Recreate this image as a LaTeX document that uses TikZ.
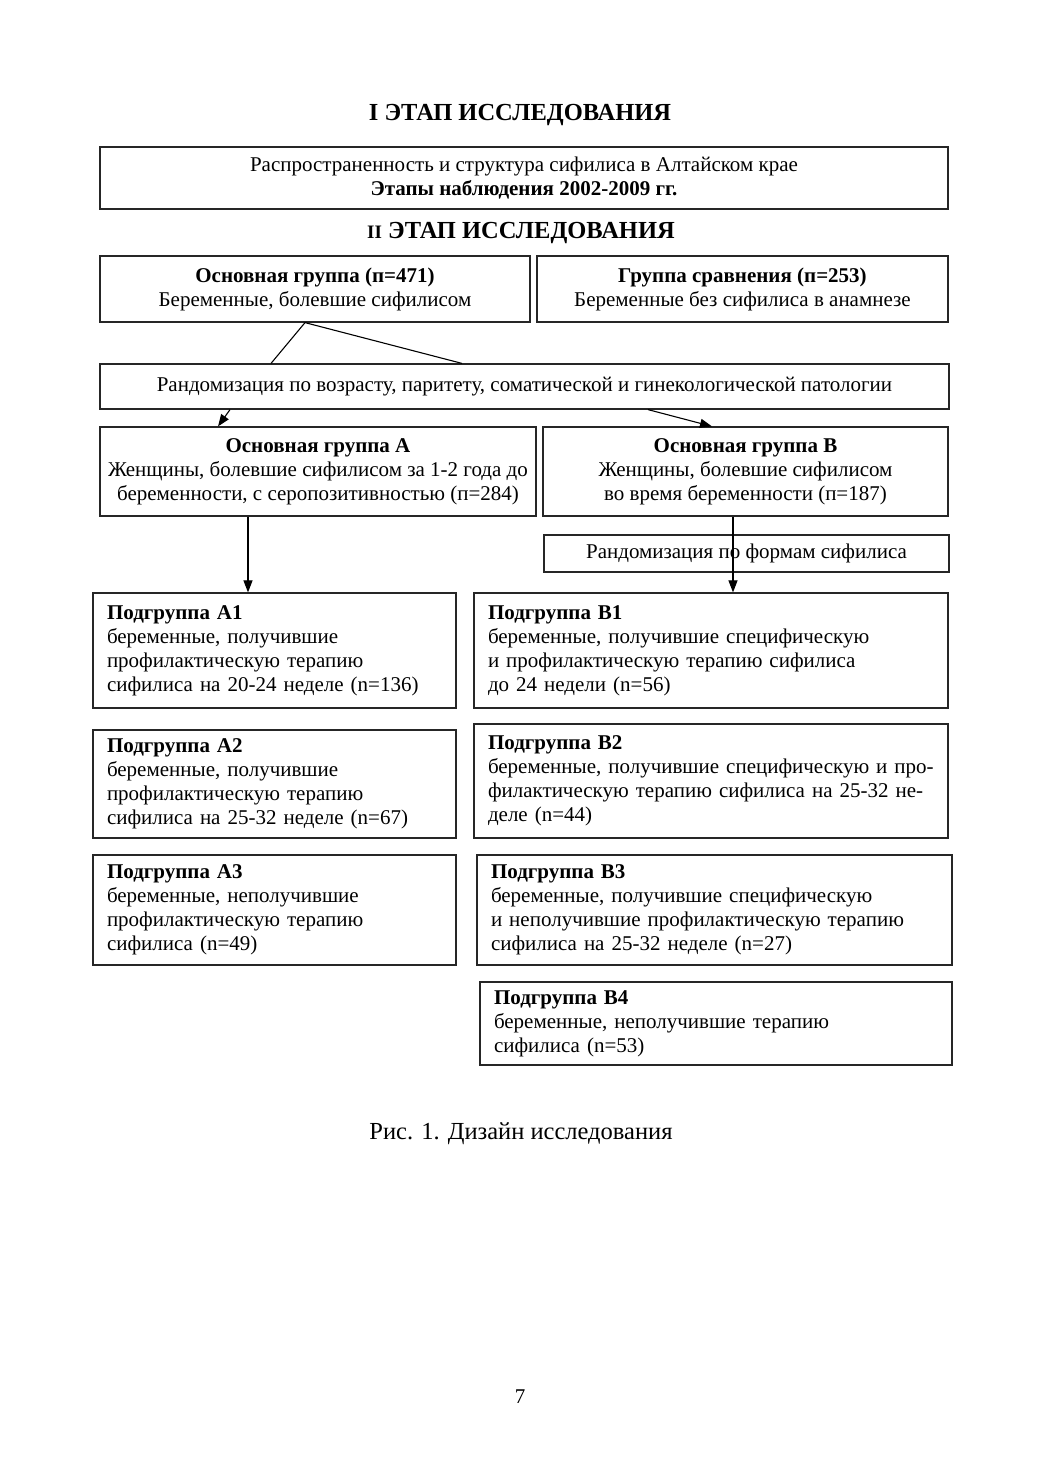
\documentclass[tikz,border=0pt]{standalone}
\usepackage{fontspec}
\setmainfont{Liberation Serif}
\usetikzlibrary{arrows.meta}
\begin{document}
\begin{tikzpicture}[x=1pt,y=-1pt,
  base/.style={draw=black!85, line width=1.2pt, font=\fontsize{21}{24}\selectfont},
  cbox/.style={base, align=center, inner xsep=4pt, inner ysep=0pt},
  lbox/.style={base, align=left, inner xsep=14pt, inner ysep=0pt},
  title/.style={font=\fontsize{24.5}{28}\selectfont\bfseries},
  link/.style={draw=black, line width=1.1pt},
  arr/.style={link, -{Triangle[length=12pt,width=9pt]}}]
\useasboundingbox (0,0) rectangle (1040,1473);
\fill[white] (0,0) rectangle (1040,1473);

\node[title] (t1) at (520,115) {I ЭТАП ИССЛЕДОВАНИЯ};
\node[cbox, minimum width=848pt, minimum height=62pt] (top) at (524,178)
 {Распространенность и структура сифилиса в Алтайском крае\\\textbf{Этапы наблюдения 2002-2009 гг.}};
\node[title] (t2) at (521,233) {{\fontsize{19}{24}\selectfont II} ЭТАП ИССЛЕДОВАНИЯ};

\node[cbox, minimum width=430pt, minimum height=66pt] (og) at (315,289)
 {\textbf{Основная группа (п=471)}\\Беременные, болевшие сифилисом};
\node[cbox, minimum width=411pt, minimum height=66pt] (gs) at (742.5,289)
 {\textbf{Группа сравнения (п=253)}\\Беременные без сифилиса в анамнезе};

\node[cbox, minimum width=849pt, minimum height=45pt] (rand) at (524.5,386.5)
 {Рандомизация по возрасту, паритету, соматической и гинекологической патологии};

\node[cbox, minimum width=436pt, minimum height=89pt] (gA) at (318,471.5)
 {\textbf{Основная группа A}\\Женщины, болевшие сифилисом за 1-2 года до\\беременности, с серопозитивностью (п=284)};
\node[cbox, minimum width=405pt, minimum height=89pt] (gB) at (745.5,471.5)
 {\textbf{Основная группа B}\\Женщины, болевшие сифилисом\\во время беременности (п=187)};

\node[cbox, minimum width=405pt, minimum height=37pt] (rand2) at (746.5,553.5)
 {Рандомизация по формам сифилиса};

\node[lbox, minimum width=363pt, minimum height=115pt, text width=335pt] (A1) at (274.5,650.5)
 {\textbf{Подгруппа A1}\\беременные, получившие\\профилактическую терапию\\сифилиса на 20-24 неделе (n=136)};
\node[lbox, minimum width=474pt, minimum height=115pt, text width=446pt] (B1) at (711,650.5)
 {\textbf{Подгруппа B1}\\беременные, получившие специфическую\\и профилактическую терапию сифилиса\\до 24 недели (n=56)};

\node[lbox, minimum width=363pt, minimum height=108pt, text width=335pt] (A2) at (274.5,784)
 {\textbf{Подгруппа A2}\\беременные, получившие\\профилактическую терапию\\сифилиса на 25-32 неделе (n=67)};
\node[lbox, minimum width=474pt, minimum height=114pt, text width=446pt] (B2) at (711,781)
 {\textbf{Подгруппа B2}\\беременные, получившие специфическую и про-\\филактическую терапию сифилиса на 25-32 не-\\деле (n=44)};

\node[lbox, minimum width=363pt, minimum height=110pt, text width=335pt] (A3) at (274.5,910)
 {\textbf{Подгруппа A3}\\беременные, неполучившие\\профилактическую терапию\\сифилиса (n=49)};
\node[lbox, minimum width=475pt, minimum height=110pt, text width=447pt] (B3) at (714.5,910)
 {\textbf{Подгруппа B3}\\беременные, получившие специфическую\\и неполучившие профилактическую терапию\\сифилиса на 25-32 неделе (n=27)};

\node[lbox, minimum width=472pt, minimum height=83pt, text width=444pt] (B4) at (716,1023.5)
 {\textbf{Подгруппа B4}\\беременные, неполучившие терапию\\сифилиса (n=53)};

\coordinate (c305) at (305,0);
\coordinate (c271) at (271,0);
\coordinate (c462) at (462,0);
\coordinate (c230) at (230,0);
\coordinate (c218) at (218,0);
\coordinate (c648) at (648,0);
\coordinate (c712) at (712,0);
\coordinate (c248) at (248,0);
\coordinate (c733) at (733,0);

\draw[link] (og.south -| c305) -- (rand.north -| c271);
\draw[link] (og.south -| c305) -- (rand.north -| c462);
\draw[arr] (rand.south -| c230) -- (gA.north -| c218);
\draw[arr] (rand.south -| c648) -- (gB.north -| c712);
\draw[arr] (gA.south -| c248) -- (A1.north -| c248);
\draw[arr] (gB.south -| c733) -- (B1.north -| c733);

\node[font=\fontsize{24.5}{28}\selectfont] (cap) at (521,1134) {Рис. 1. Дизайн исследования};
\node[font=\fontsize{21}{24}\selectfont] (pg) at (520,1397) {7};
\end{tikzpicture}
\end{document}
